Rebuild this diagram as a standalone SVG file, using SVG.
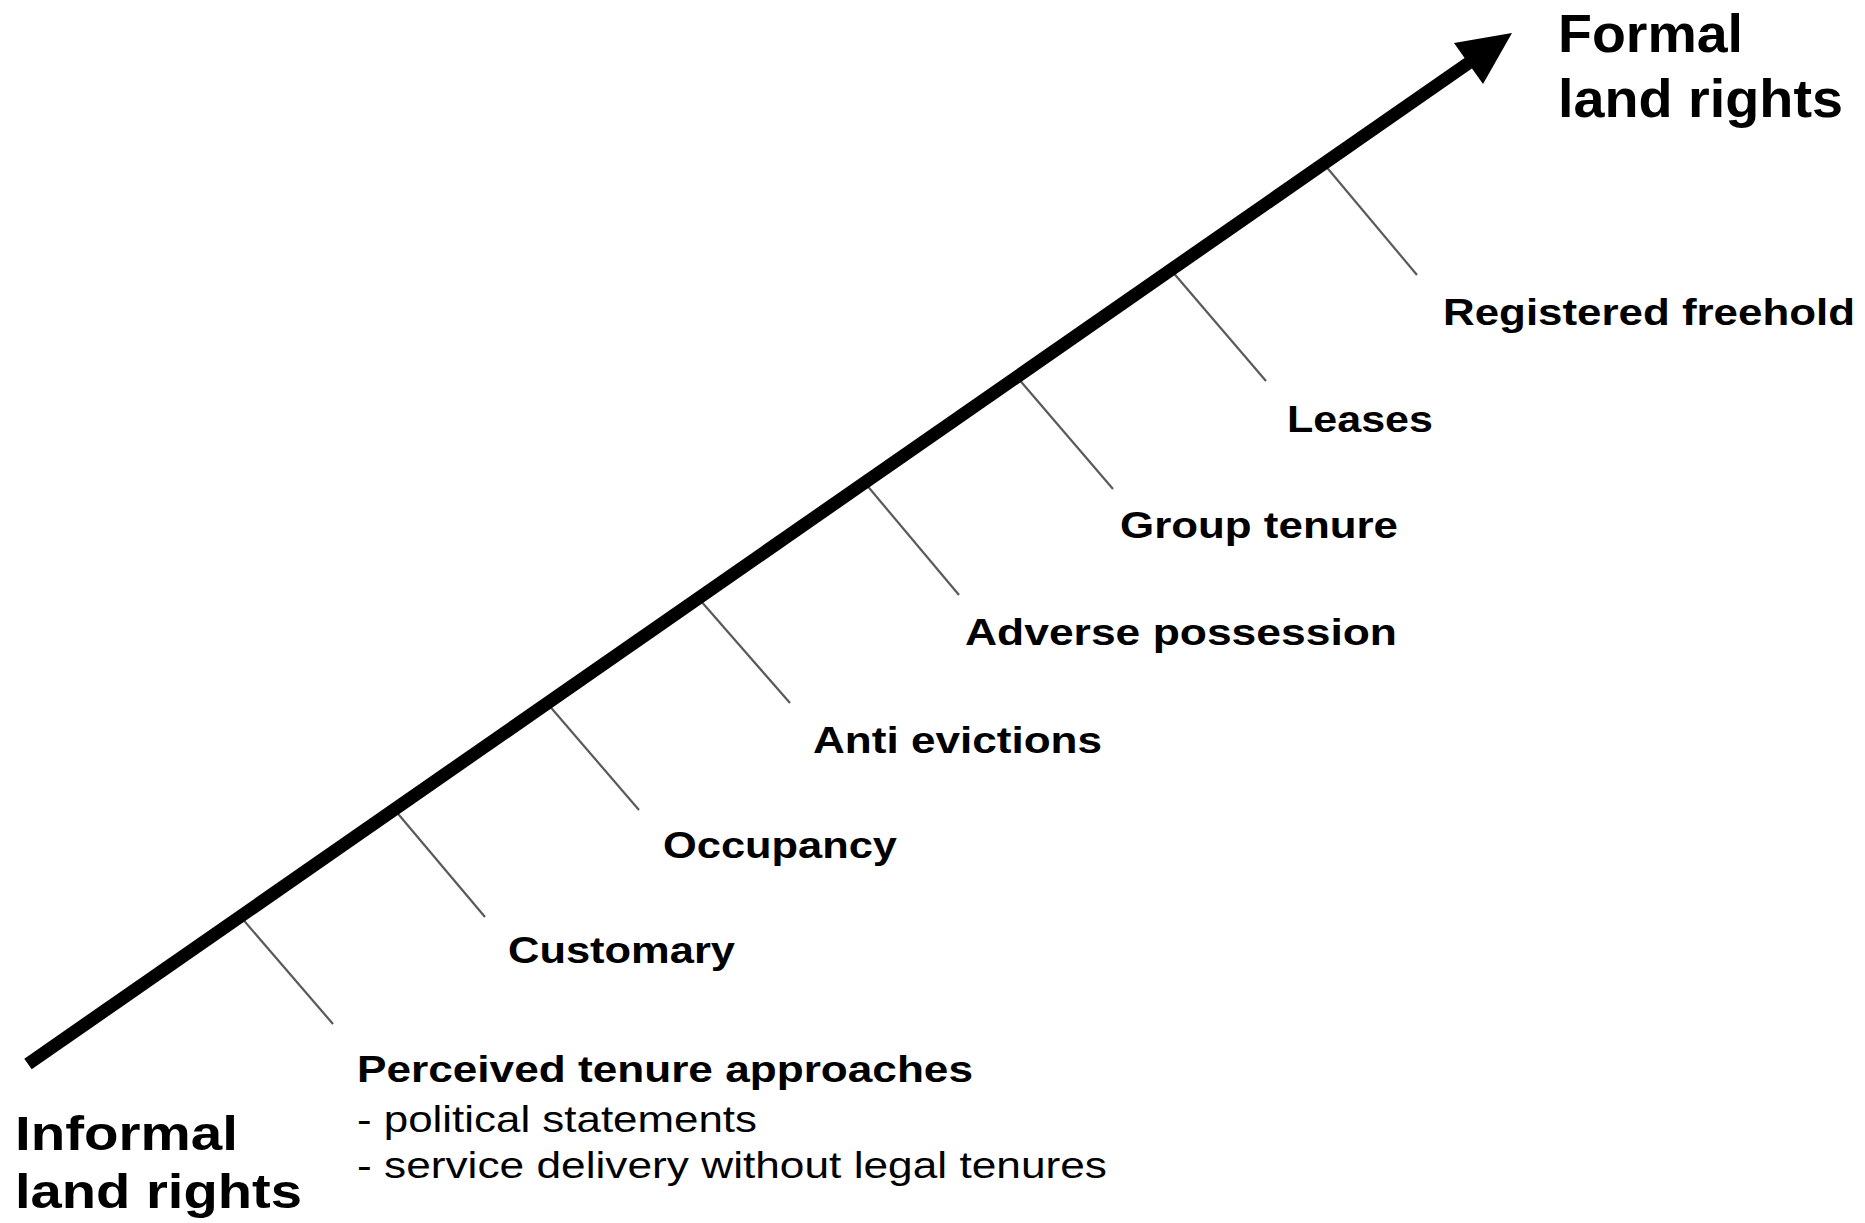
<svg xmlns="http://www.w3.org/2000/svg" width="1865" height="1223" viewBox="0 0 1865 1223">
<style>
.lbl{font-family:"Liberation Sans",Arial,sans-serif;font-weight:bold;font-size:37px;fill:#000}
.big{font-family:"Liberation Sans",Arial,sans-serif;font-weight:bold;fill:#000}
.reg{font-family:"Liberation Sans",Arial,sans-serif;font-size:37px;fill:#000}
.tick{stroke:#5a5a5a;stroke-width:2.2;fill:none}
</style>
<rect width="1865" height="1223" fill="#fff"/>
<g id="connectors">
<line class="tick" x1="240" y1="916" x2="333" y2="1024"/>
<line class="tick" x1="394" y1="809" x2="485" y2="917"/>
<line class="tick" x1="547" y1="703" x2="639" y2="810"/>
<line class="tick" x1="700" y1="600" x2="790" y2="703"/>
<line class="tick" x1="865" y1="483" x2="959" y2="595"/>
<line class="tick" x1="1017" y1="377" x2="1113" y2="489"/>
<line class="tick" x1="1171" y1="270" x2="1266" y2="381"/>
<line class="tick" x1="1324" y1="164" x2="1417" y2="275"/>
<line x1="28" y1="1064" x2="1470" y2="62" stroke="#000" stroke-width="13"/>
<polygon points="1512,33 1454,43 1483,84" fill="#000"/>
</g>
<g id="formal"><text class="big" font-size="54" x="1558" y="52" textLength="185" lengthAdjust="spacingAndGlyphs">Formal</text><text class="big" font-size="54" x="1558" y="117" textLength="285" lengthAdjust="spacingAndGlyphs">land rights</text></g>
<g id="informal"><text class="big" font-size="49" x="15" y="1150" textLength="223" lengthAdjust="spacingAndGlyphs">Informal</text><text class="big" font-size="49" x="15" y="1208" textLength="287" lengthAdjust="spacingAndGlyphs">land rights</text></g>
<g id="registered"><text class="lbl" x="1443" y="325" textLength="412" lengthAdjust="spacingAndGlyphs">Registered freehold</text></g>
<g id="leases"><text class="lbl" x="1287" y="432" textLength="146" lengthAdjust="spacingAndGlyphs">Leases</text></g>
<g id="group"><text class="lbl" x="1120" y="538" textLength="278" lengthAdjust="spacingAndGlyphs">Group tenure</text></g>
<g id="adverse"><text class="lbl" x="965" y="645" textLength="432" lengthAdjust="spacingAndGlyphs">Adverse possession</text></g>
<g id="anti"><text class="lbl" x="813" y="753" textLength="289" lengthAdjust="spacingAndGlyphs">Anti evictions</text></g>
<g id="occupancy"><text class="lbl" x="663" y="858" textLength="234" lengthAdjust="spacingAndGlyphs">Occupancy</text></g>
<g id="customary"><text class="lbl" x="508" y="963" textLength="227" lengthAdjust="spacingAndGlyphs">Customary</text></g>
<g id="perceived">
<text class="lbl" font-size="34" x="357" y="1082" textLength="616" lengthAdjust="spacingAndGlyphs">Perceived tenure approaches</text>
<text class="reg" x="357" y="1132" textLength="400" lengthAdjust="spacingAndGlyphs">- political statements</text>
<text class="reg" x="357" y="1178" textLength="750" lengthAdjust="spacingAndGlyphs">- service delivery without legal tenures</text>
</g>
</svg>
